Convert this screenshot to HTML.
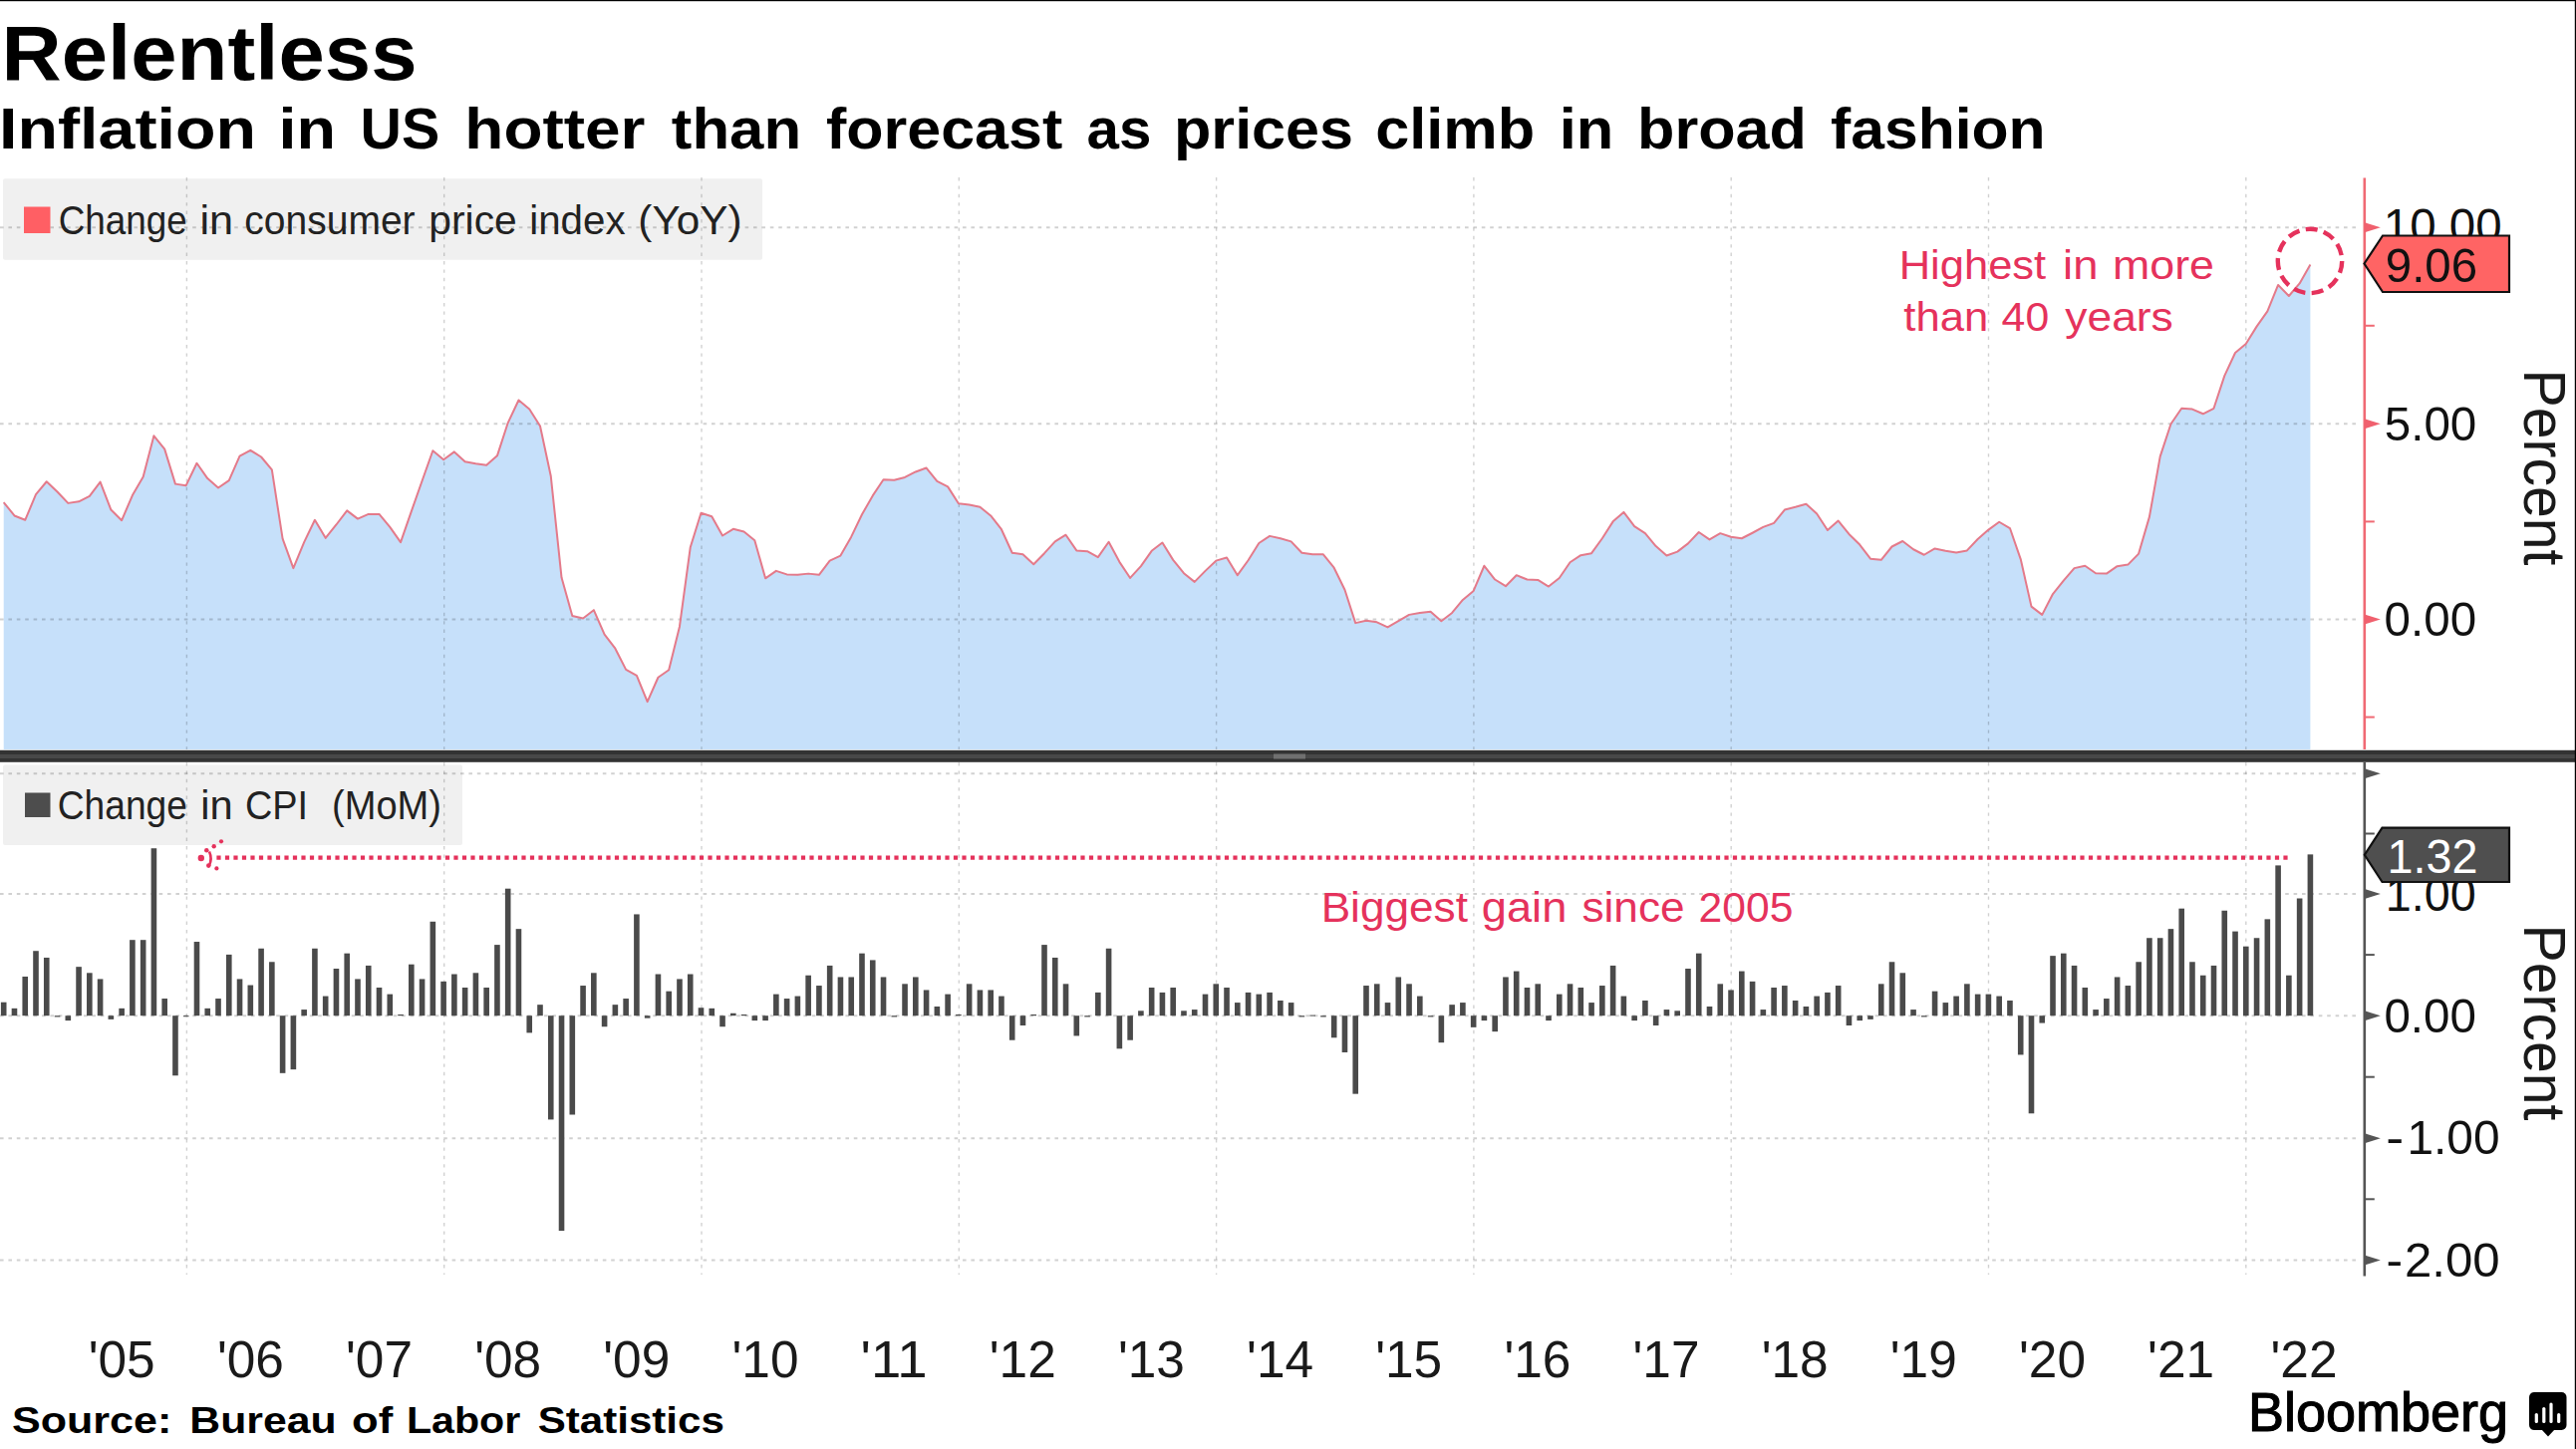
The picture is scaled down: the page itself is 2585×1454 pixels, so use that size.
<!DOCTYPE html>
<html><head><meta charset="utf-8"><title>Relentless</title>
<style>
html,body{margin:0;padding:0;background:#fff;}
body{width:2585px;height:1454px;overflow:hidden;position:relative;}
svg{position:absolute;left:0;top:0;display:block;}
text{font-family:"Liberation Sans", sans-serif;}
</style></head>
<body>
<svg width="2585" height="1454" viewBox="0 0 2585 1454">
<rect x="3" y="179.3" width="762" height="81.5" rx="2" fill="#F0F0F0"/>
<rect x="3" y="767.5" width="461" height="80.5" rx="2" fill="#F0F0F0"/>
<path d="M3.70,752 L3.70,504.09 L14.47,517.46 L25.23,521.78 L36.00,496.23 L46.76,483.26 L57.53,493.48 L68.30,504.88 L79.06,503.31 L89.83,497.81 L100.59,483.66 L111.36,511.56 L122.13,522.17 L132.89,497.02 L143.66,478.55 L154.42,437.28 L165.19,450.65 L175.96,485.62 L186.72,487.19 L197.49,464.79 L208.25,480.12 L219.02,489.55 L229.79,482.09 L240.55,457.72 L251.32,451.82 L262.09,458.50 L272.85,471.47 L283.62,540.64 L294.38,570.12 L305.15,544.18 L315.92,521.78 L326.68,539.86 L337.45,526.49 L348.21,512.35 L358.98,520.60 L369.75,515.88 L380.51,515.88 L391.28,528.85 L402.04,544.18 L412.81,513.13 L423.58,482.48 L434.34,452.22 L445.11,461.26 L455.87,453.40 L466.64,463.22 L477.41,465.19 L488.17,466.76 L498.94,457.33 L509.70,424.31 L520.47,401.52 L531.24,410.56 L542.00,427.46 L552.77,477.76 L563.53,579.55 L574.30,618.06 L585.07,620.42 L595.83,612.17 L606.60,636.53 L617.36,650.68 L628.13,671.90 L638.90,677.80 L649.66,704.13 L660.43,679.76 L671.19,672.30 L681.96,628.67 L692.73,549.29 L703.49,514.70 L714.26,518.24 L725.03,537.50 L735.79,530.82 L746.56,533.57 L757.32,542.21 L768.09,580.34 L778.86,572.87 L789.62,576.40 L800.39,576.80 L811.15,575.62 L821.92,576.80 L832.69,562.65 L843.45,557.54 L854.22,538.68 L864.98,516.28 L875.75,497.41 L886.52,481.30 L897.28,481.69 L908.05,478.94 L918.81,473.44 L929.58,469.51 L940.35,482.87 L951.11,488.37 L961.88,505.27 L972.64,506.45 L983.41,508.81 L994.18,517.46 L1004.94,531.21 L1015.71,554.79 L1026.47,556.36 L1037.24,566.19 L1048.01,555.18 L1058.77,543.39 L1069.54,536.71 L1080.30,552.43 L1091.07,553.22 L1101.84,559.11 L1112.60,543.79 L1123.37,563.83 L1134.13,579.94 L1144.90,568.15 L1155.67,552.83 L1166.43,544.57 L1177.20,561.86 L1187.97,575.23 L1198.73,583.87 L1209.50,572.87 L1220.26,562.65 L1231.03,559.51 L1241.80,577.19 L1252.56,562.26 L1263.33,544.97 L1274.09,537.89 L1284.86,540.25 L1295.63,543.39 L1306.39,554.79 L1317.16,556.36 L1327.92,556.36 L1338.69,569.72 L1349.46,591.73 L1360.22,625.14 L1370.99,622.78 L1381.75,624.35 L1392.52,629.46 L1403.29,623.17 L1414.05,616.88 L1424.82,614.92 L1435.58,613.74 L1446.35,623.17 L1457.12,614.92 L1467.88,601.95 L1478.65,592.91 L1489.41,567.76 L1500.18,581.51 L1510.95,588.20 L1521.71,577.19 L1532.48,581.51 L1543.24,581.91 L1554.01,588.59 L1564.78,579.94 L1575.54,564.22 L1586.31,557.15 L1597.07,555.18 L1607.84,540.25 L1618.61,523.35 L1629.37,513.92 L1640.14,528.07 L1650.91,535.14 L1661.67,548.11 L1672.44,557.54 L1683.20,553.61 L1693.97,545.36 L1704.74,533.96 L1715.50,541.43 L1726.27,535.14 L1737.03,538.68 L1747.80,540.25 L1758.57,534.75 L1769.33,528.85 L1780.10,524.92 L1790.86,511.56 L1801.63,508.81 L1812.40,505.67 L1823.16,515.49 L1833.93,532.00 L1844.69,522.56 L1855.46,535.93 L1866.23,546.54 L1876.99,560.69 L1887.76,561.86 L1898.52,548.50 L1909.29,543.00 L1920.06,551.25 L1930.82,556.75 L1941.59,550.47 L1952.35,552.83 L1963.12,554.40 L1973.89,552.43 L1984.65,541.04 L1995.42,531.60 L2006.18,523.74 L2016.95,530.03 L2027.72,561.08 L2038.48,608.63 L2049.25,616.88 L2060.01,596.06 L2070.78,582.69 L2081.55,570.12 L2092.31,567.76 L2103.08,575.23 L2113.85,575.62 L2124.61,568.15 L2135.38,566.58 L2146.14,555.58 L2156.91,518.63 L2167.68,458.11 L2178.44,425.49 L2189.21,409.77 L2199.97,410.56 L2210.74,415.28 L2221.51,409.77 L2232.27,377.15 L2243.04,353.97 L2253.80,344.93 L2264.57,327.64 L2275.34,312.31 L2286.10,285.98 L2296.87,296.98 L2307.63,284.41 L2318.40,265.54 L2318.40,752 Z" fill="#C6E0FA"/>
<line x1="0" y1="228.2" x2="2366.8" y2="228.2" stroke="rgba(0,0,0,0.18)" stroke-width="2" stroke-dasharray="3.6 4.8"/>
<line x1="0" y1="425.3" x2="2366.8" y2="425.3" stroke="rgba(0,0,0,0.18)" stroke-width="2" stroke-dasharray="3.6 4.8"/>
<line x1="0" y1="621.5" x2="2366.8" y2="621.5" stroke="rgba(0,0,0,0.18)" stroke-width="2" stroke-dasharray="3.6 4.8"/>
<line x1="187.4" y1="178" x2="187.4" y2="752" stroke="rgba(0,0,0,0.18)" stroke-width="1.4" stroke-dasharray="3.4 5.0"/>
<line x1="187.4" y1="765" x2="187.4" y2="1279" stroke="rgba(0,0,0,0.18)" stroke-width="1.4" stroke-dasharray="3.4 5.0"/>
<line x1="445.7" y1="178" x2="445.7" y2="752" stroke="rgba(0,0,0,0.18)" stroke-width="1.4" stroke-dasharray="3.4 5.0"/>
<line x1="445.7" y1="765" x2="445.7" y2="1279" stroke="rgba(0,0,0,0.18)" stroke-width="1.4" stroke-dasharray="3.4 5.0"/>
<line x1="704.0" y1="178" x2="704.0" y2="752" stroke="rgba(0,0,0,0.18)" stroke-width="1.4" stroke-dasharray="3.4 5.0"/>
<line x1="704.0" y1="765" x2="704.0" y2="1279" stroke="rgba(0,0,0,0.18)" stroke-width="1.4" stroke-dasharray="3.4 5.0"/>
<line x1="962.3" y1="178" x2="962.3" y2="752" stroke="rgba(0,0,0,0.18)" stroke-width="1.4" stroke-dasharray="3.4 5.0"/>
<line x1="962.3" y1="765" x2="962.3" y2="1279" stroke="rgba(0,0,0,0.18)" stroke-width="1.4" stroke-dasharray="3.4 5.0"/>
<line x1="1220.6" y1="178" x2="1220.6" y2="752" stroke="rgba(0,0,0,0.18)" stroke-width="1.4" stroke-dasharray="3.4 5.0"/>
<line x1="1220.6" y1="765" x2="1220.6" y2="1279" stroke="rgba(0,0,0,0.18)" stroke-width="1.4" stroke-dasharray="3.4 5.0"/>
<line x1="1478.9" y1="178" x2="1478.9" y2="752" stroke="rgba(0,0,0,0.18)" stroke-width="1.4" stroke-dasharray="3.4 5.0"/>
<line x1="1478.9" y1="765" x2="1478.9" y2="1279" stroke="rgba(0,0,0,0.18)" stroke-width="1.4" stroke-dasharray="3.4 5.0"/>
<line x1="1737.2" y1="178" x2="1737.2" y2="752" stroke="rgba(0,0,0,0.18)" stroke-width="1.4" stroke-dasharray="3.4 5.0"/>
<line x1="1737.2" y1="765" x2="1737.2" y2="1279" stroke="rgba(0,0,0,0.18)" stroke-width="1.4" stroke-dasharray="3.4 5.0"/>
<line x1="1995.5" y1="178" x2="1995.5" y2="752" stroke="rgba(0,0,0,0.18)" stroke-width="1.4" stroke-dasharray="3.4 5.0"/>
<line x1="1995.5" y1="765" x2="1995.5" y2="1279" stroke="rgba(0,0,0,0.18)" stroke-width="1.4" stroke-dasharray="3.4 5.0"/>
<line x1="2253.8" y1="178" x2="2253.8" y2="752" stroke="rgba(0,0,0,0.18)" stroke-width="1.4" stroke-dasharray="3.4 5.0"/>
<line x1="2253.8" y1="765" x2="2253.8" y2="1279" stroke="rgba(0,0,0,0.18)" stroke-width="1.4" stroke-dasharray="3.4 5.0"/>
<line x1="0" y1="776.2" x2="2366.8" y2="776.2" stroke="rgba(0,0,0,0.18)" stroke-width="2" stroke-dasharray="3.6 4.8"/>
<line x1="0" y1="896.9" x2="2366.8" y2="896.9" stroke="rgba(0,0,0,0.18)" stroke-width="2" stroke-dasharray="3.6 4.8"/>
<line x1="0" y1="1019.3" x2="2366.8" y2="1019.3" stroke="rgba(0,0,0,0.18)" stroke-width="2" stroke-dasharray="3.6 4.8"/>
<line x1="0" y1="1142.2" x2="2366.8" y2="1142.2" stroke="rgba(0,0,0,0.18)" stroke-width="2" stroke-dasharray="3.6 4.8"/>
<line x1="0" y1="1264.5" x2="2366.8" y2="1264.5" stroke="rgba(0,0,0,0.18)" stroke-width="2" stroke-dasharray="3.6 4.8"/>
<rect x="24" y="207.5" width="26.5" height="26.5" fill="#FF5F64"/>
<rect x="25" y="795.5" width="25.5" height="24.5" fill="#4D4D4D"/>
<path d="M3.70,504.09 L14.47,517.46 L25.23,521.78 L36.00,496.23 L46.76,483.26 L57.53,493.48 L68.30,504.88 L79.06,503.31 L89.83,497.81 L100.59,483.66 L111.36,511.56 L122.13,522.17 L132.89,497.02 L143.66,478.55 L154.42,437.28 L165.19,450.65 L175.96,485.62 L186.72,487.19 L197.49,464.79 L208.25,480.12 L219.02,489.55 L229.79,482.09 L240.55,457.72 L251.32,451.82 L262.09,458.50 L272.85,471.47 L283.62,540.64 L294.38,570.12 L305.15,544.18 L315.92,521.78 L326.68,539.86 L337.45,526.49 L348.21,512.35 L358.98,520.60 L369.75,515.88 L380.51,515.88 L391.28,528.85 L402.04,544.18 L412.81,513.13 L423.58,482.48 L434.34,452.22 L445.11,461.26 L455.87,453.40 L466.64,463.22 L477.41,465.19 L488.17,466.76 L498.94,457.33 L509.70,424.31 L520.47,401.52 L531.24,410.56 L542.00,427.46 L552.77,477.76 L563.53,579.55 L574.30,618.06 L585.07,620.42 L595.83,612.17 L606.60,636.53 L617.36,650.68 L628.13,671.90 L638.90,677.80 L649.66,704.13 L660.43,679.76 L671.19,672.30 L681.96,628.67 L692.73,549.29 L703.49,514.70 L714.26,518.24 L725.03,537.50 L735.79,530.82 L746.56,533.57 L757.32,542.21 L768.09,580.34 L778.86,572.87 L789.62,576.40 L800.39,576.80 L811.15,575.62 L821.92,576.80 L832.69,562.65 L843.45,557.54 L854.22,538.68 L864.98,516.28 L875.75,497.41 L886.52,481.30 L897.28,481.69 L908.05,478.94 L918.81,473.44 L929.58,469.51 L940.35,482.87 L951.11,488.37 L961.88,505.27 L972.64,506.45 L983.41,508.81 L994.18,517.46 L1004.94,531.21 L1015.71,554.79 L1026.47,556.36 L1037.24,566.19 L1048.01,555.18 L1058.77,543.39 L1069.54,536.71 L1080.30,552.43 L1091.07,553.22 L1101.84,559.11 L1112.60,543.79 L1123.37,563.83 L1134.13,579.94 L1144.90,568.15 L1155.67,552.83 L1166.43,544.57 L1177.20,561.86 L1187.97,575.23 L1198.73,583.87 L1209.50,572.87 L1220.26,562.65 L1231.03,559.51 L1241.80,577.19 L1252.56,562.26 L1263.33,544.97 L1274.09,537.89 L1284.86,540.25 L1295.63,543.39 L1306.39,554.79 L1317.16,556.36 L1327.92,556.36 L1338.69,569.72 L1349.46,591.73 L1360.22,625.14 L1370.99,622.78 L1381.75,624.35 L1392.52,629.46 L1403.29,623.17 L1414.05,616.88 L1424.82,614.92 L1435.58,613.74 L1446.35,623.17 L1457.12,614.92 L1467.88,601.95 L1478.65,592.91 L1489.41,567.76 L1500.18,581.51 L1510.95,588.20 L1521.71,577.19 L1532.48,581.51 L1543.24,581.91 L1554.01,588.59 L1564.78,579.94 L1575.54,564.22 L1586.31,557.15 L1597.07,555.18 L1607.84,540.25 L1618.61,523.35 L1629.37,513.92 L1640.14,528.07 L1650.91,535.14 L1661.67,548.11 L1672.44,557.54 L1683.20,553.61 L1693.97,545.36 L1704.74,533.96 L1715.50,541.43 L1726.27,535.14 L1737.03,538.68 L1747.80,540.25 L1758.57,534.75 L1769.33,528.85 L1780.10,524.92 L1790.86,511.56 L1801.63,508.81 L1812.40,505.67 L1823.16,515.49 L1833.93,532.00 L1844.69,522.56 L1855.46,535.93 L1866.23,546.54 L1876.99,560.69 L1887.76,561.86 L1898.52,548.50 L1909.29,543.00 L1920.06,551.25 L1930.82,556.75 L1941.59,550.47 L1952.35,552.83 L1963.12,554.40 L1973.89,552.43 L1984.65,541.04 L1995.42,531.60 L2006.18,523.74 L2016.95,530.03 L2027.72,561.08 L2038.48,608.63 L2049.25,616.88 L2060.01,596.06 L2070.78,582.69 L2081.55,570.12 L2092.31,567.76 L2103.08,575.23 L2113.85,575.62 L2124.61,568.15 L2135.38,566.58 L2146.14,555.58 L2156.91,518.63 L2167.68,458.11 L2178.44,425.49 L2189.21,409.77 L2199.97,410.56 L2210.74,415.28 L2221.51,409.77 L2232.27,377.15 L2243.04,353.97 L2253.80,344.93 L2264.57,327.64 L2275.34,312.31 L2286.10,285.98 L2296.87,296.98 L2307.63,284.41 L2318.40,265.54" fill="none" stroke="#E47A8A" stroke-width="2.0" stroke-linejoin="round"/>
<rect x="0.90" y="1005.71" width="5.6" height="13.49" fill="#4A4A4A"/>
<rect x="11.67" y="1011.84" width="5.6" height="7.36" fill="#4A4A4A"/>
<rect x="22.43" y="979.97" width="5.6" height="39.23" fill="#4A4A4A"/>
<rect x="33.20" y="954.22" width="5.6" height="64.98" fill="#4A4A4A"/>
<rect x="43.96" y="960.97" width="5.6" height="58.24" fill="#4A4A4A"/>
<rect x="54.73" y="1019.20" width="5.6" height="1.23" fill="#4A4A4A"/>
<rect x="65.50" y="1019.20" width="5.6" height="4.90" fill="#4A4A4A"/>
<rect x="76.26" y="970.16" width="5.6" height="49.04" fill="#4A4A4A"/>
<rect x="87.03" y="976.29" width="5.6" height="42.91" fill="#4A4A4A"/>
<rect x="97.79" y="982.42" width="5.6" height="36.78" fill="#4A4A4A"/>
<rect x="108.56" y="1019.20" width="5.6" height="3.68" fill="#4A4A4A"/>
<rect x="119.33" y="1011.84" width="5.6" height="7.36" fill="#4A4A4A"/>
<rect x="130.09" y="943.19" width="5.6" height="76.01" fill="#4A4A4A"/>
<rect x="140.86" y="943.19" width="5.6" height="76.01" fill="#4A4A4A"/>
<rect x="151.62" y="851.24" width="5.6" height="167.96" fill="#4A4A4A"/>
<rect x="162.39" y="1002.04" width="5.6" height="17.16" fill="#4A4A4A"/>
<rect x="173.16" y="1019.20" width="5.6" height="60.07" fill="#4A4A4A"/>
<rect x="183.92" y="1019.20" width="5.6" height="1.00" fill="#4A4A4A"/>
<rect x="194.69" y="945.03" width="5.6" height="74.17" fill="#4A4A4A"/>
<rect x="205.45" y="1011.84" width="5.6" height="7.36" fill="#4A4A4A"/>
<rect x="216.22" y="1002.04" width="5.6" height="17.16" fill="#4A4A4A"/>
<rect x="226.99" y="957.90" width="5.6" height="61.30" fill="#4A4A4A"/>
<rect x="237.75" y="982.42" width="5.6" height="36.78" fill="#4A4A4A"/>
<rect x="248.52" y="988.55" width="5.6" height="30.65" fill="#4A4A4A"/>
<rect x="259.29" y="951.77" width="5.6" height="67.43" fill="#4A4A4A"/>
<rect x="270.05" y="965.26" width="5.6" height="53.94" fill="#4A4A4A"/>
<rect x="280.82" y="1019.20" width="5.6" height="57.62" fill="#4A4A4A"/>
<rect x="291.58" y="1019.20" width="5.6" height="53.94" fill="#4A4A4A"/>
<rect x="302.35" y="1013.07" width="5.6" height="6.13" fill="#4A4A4A"/>
<rect x="313.12" y="951.77" width="5.6" height="67.43" fill="#4A4A4A"/>
<rect x="323.88" y="999.58" width="5.6" height="19.62" fill="#4A4A4A"/>
<rect x="334.65" y="972.00" width="5.6" height="47.20" fill="#4A4A4A"/>
<rect x="345.41" y="956.67" width="5.6" height="62.53" fill="#4A4A4A"/>
<rect x="356.18" y="982.42" width="5.6" height="36.78" fill="#4A4A4A"/>
<rect x="366.95" y="968.93" width="5.6" height="50.27" fill="#4A4A4A"/>
<rect x="377.71" y="991.00" width="5.6" height="28.20" fill="#4A4A4A"/>
<rect x="388.48" y="997.62" width="5.6" height="21.58" fill="#4A4A4A"/>
<rect x="399.24" y="1017.97" width="5.6" height="1.23" fill="#4A4A4A"/>
<rect x="410.01" y="967.71" width="5.6" height="51.49" fill="#4A4A4A"/>
<rect x="420.78" y="982.42" width="5.6" height="36.78" fill="#4A4A4A"/>
<rect x="431.54" y="924.80" width="5.6" height="94.40" fill="#4A4A4A"/>
<rect x="442.31" y="984.87" width="5.6" height="34.33" fill="#4A4A4A"/>
<rect x="453.07" y="977.52" width="5.6" height="41.68" fill="#4A4A4A"/>
<rect x="463.84" y="991.00" width="5.6" height="28.20" fill="#4A4A4A"/>
<rect x="474.61" y="976.29" width="5.6" height="42.91" fill="#4A4A4A"/>
<rect x="485.37" y="991.00" width="5.6" height="28.20" fill="#4A4A4A"/>
<rect x="496.14" y="948.09" width="5.6" height="71.11" fill="#4A4A4A"/>
<rect x="506.90" y="891.70" width="5.6" height="127.50" fill="#4A4A4A"/>
<rect x="517.67" y="932.15" width="5.6" height="87.05" fill="#4A4A4A"/>
<rect x="528.44" y="1019.20" width="5.6" height="17.16" fill="#4A4A4A"/>
<rect x="539.20" y="1008.17" width="5.6" height="11.03" fill="#4A4A4A"/>
<rect x="549.97" y="1019.20" width="5.6" height="104.21" fill="#4A4A4A"/>
<rect x="560.73" y="1019.20" width="5.6" height="215.78" fill="#4A4A4A"/>
<rect x="571.50" y="1019.20" width="5.6" height="99.31" fill="#4A4A4A"/>
<rect x="582.27" y="989.04" width="5.6" height="30.16" fill="#4A4A4A"/>
<rect x="593.03" y="976.29" width="5.6" height="42.91" fill="#4A4A4A"/>
<rect x="603.80" y="1019.20" width="5.6" height="11.03" fill="#4A4A4A"/>
<rect x="614.56" y="1008.17" width="5.6" height="11.03" fill="#4A4A4A"/>
<rect x="625.33" y="1002.04" width="5.6" height="17.16" fill="#4A4A4A"/>
<rect x="636.10" y="917.44" width="5.6" height="101.76" fill="#4A4A4A"/>
<rect x="646.86" y="1019.20" width="5.6" height="2.45" fill="#4A4A4A"/>
<rect x="657.63" y="977.52" width="5.6" height="41.68" fill="#4A4A4A"/>
<rect x="668.39" y="994.68" width="5.6" height="24.52" fill="#4A4A4A"/>
<rect x="679.16" y="982.42" width="5.6" height="36.78" fill="#4A4A4A"/>
<rect x="689.93" y="977.52" width="5.6" height="41.68" fill="#4A4A4A"/>
<rect x="700.69" y="1011.23" width="5.6" height="7.97" fill="#4A4A4A"/>
<rect x="711.46" y="1011.84" width="5.6" height="7.36" fill="#4A4A4A"/>
<rect x="722.23" y="1019.20" width="5.6" height="11.03" fill="#4A4A4A"/>
<rect x="732.99" y="1016.75" width="5.6" height="2.45" fill="#4A4A4A"/>
<rect x="743.76" y="1017.97" width="5.6" height="1.23" fill="#4A4A4A"/>
<rect x="754.52" y="1019.20" width="5.6" height="4.90" fill="#4A4A4A"/>
<rect x="765.29" y="1019.20" width="5.6" height="4.90" fill="#4A4A4A"/>
<rect x="776.06" y="997.62" width="5.6" height="21.58" fill="#4A4A4A"/>
<rect x="786.82" y="1002.04" width="5.6" height="17.16" fill="#4A4A4A"/>
<rect x="797.59" y="999.58" width="5.6" height="19.62" fill="#4A4A4A"/>
<rect x="808.35" y="978.74" width="5.6" height="40.46" fill="#4A4A4A"/>
<rect x="819.12" y="989.04" width="5.6" height="30.16" fill="#4A4A4A"/>
<rect x="829.89" y="968.93" width="5.6" height="50.27" fill="#4A4A4A"/>
<rect x="840.65" y="980.46" width="5.6" height="38.74" fill="#4A4A4A"/>
<rect x="851.42" y="980.46" width="5.6" height="38.74" fill="#4A4A4A"/>
<rect x="862.18" y="956.67" width="5.6" height="62.53" fill="#4A4A4A"/>
<rect x="872.95" y="963.42" width="5.6" height="55.78" fill="#4A4A4A"/>
<rect x="883.72" y="980.46" width="5.6" height="38.74" fill="#4A4A4A"/>
<rect x="894.48" y="1019.20" width="5.6" height="1.23" fill="#4A4A4A"/>
<rect x="905.25" y="987.32" width="5.6" height="31.88" fill="#4A4A4A"/>
<rect x="916.01" y="980.46" width="5.6" height="38.74" fill="#4A4A4A"/>
<rect x="926.78" y="993.45" width="5.6" height="25.75" fill="#4A4A4A"/>
<rect x="937.55" y="1010.00" width="5.6" height="9.20" fill="#4A4A4A"/>
<rect x="948.31" y="997.62" width="5.6" height="21.58" fill="#4A4A4A"/>
<rect x="959.08" y="1017.97" width="5.6" height="1.23" fill="#4A4A4A"/>
<rect x="969.84" y="987.32" width="5.6" height="31.88" fill="#4A4A4A"/>
<rect x="980.61" y="993.45" width="5.6" height="25.75" fill="#4A4A4A"/>
<rect x="991.38" y="993.45" width="5.6" height="25.75" fill="#4A4A4A"/>
<rect x="1002.14" y="999.58" width="5.6" height="19.62" fill="#4A4A4A"/>
<rect x="1012.91" y="1019.20" width="5.6" height="24.52" fill="#4A4A4A"/>
<rect x="1023.67" y="1019.20" width="5.6" height="9.81" fill="#4A4A4A"/>
<rect x="1034.44" y="1017.97" width="5.6" height="1.23" fill="#4A4A4A"/>
<rect x="1045.21" y="948.09" width="5.6" height="71.11" fill="#4A4A4A"/>
<rect x="1055.97" y="960.97" width="5.6" height="58.24" fill="#4A4A4A"/>
<rect x="1066.74" y="987.32" width="5.6" height="31.88" fill="#4A4A4A"/>
<rect x="1077.50" y="1019.20" width="5.6" height="20.23" fill="#4A4A4A"/>
<rect x="1088.27" y="1019.20" width="5.6" height="1.23" fill="#4A4A4A"/>
<rect x="1099.04" y="995.91" width="5.6" height="23.29" fill="#4A4A4A"/>
<rect x="1109.80" y="951.77" width="5.6" height="67.43" fill="#4A4A4A"/>
<rect x="1120.57" y="1019.20" width="5.6" height="33.10" fill="#4A4A4A"/>
<rect x="1131.33" y="1019.20" width="5.6" height="24.52" fill="#4A4A4A"/>
<rect x="1142.10" y="1014.30" width="5.6" height="4.90" fill="#4A4A4A"/>
<rect x="1152.87" y="991.00" width="5.6" height="28.20" fill="#4A4A4A"/>
<rect x="1163.63" y="995.91" width="5.6" height="23.29" fill="#4A4A4A"/>
<rect x="1174.40" y="991.00" width="5.6" height="28.20" fill="#4A4A4A"/>
<rect x="1185.17" y="1014.30" width="5.6" height="4.90" fill="#4A4A4A"/>
<rect x="1195.93" y="1013.07" width="5.6" height="6.13" fill="#4A4A4A"/>
<rect x="1206.70" y="997.62" width="5.6" height="21.58" fill="#4A4A4A"/>
<rect x="1217.46" y="987.32" width="5.6" height="31.88" fill="#4A4A4A"/>
<rect x="1228.23" y="991.00" width="5.6" height="28.20" fill="#4A4A4A"/>
<rect x="1239.00" y="1006.08" width="5.6" height="13.12" fill="#4A4A4A"/>
<rect x="1249.76" y="995.91" width="5.6" height="23.29" fill="#4A4A4A"/>
<rect x="1260.53" y="997.62" width="5.6" height="21.58" fill="#4A4A4A"/>
<rect x="1271.29" y="995.91" width="5.6" height="23.29" fill="#4A4A4A"/>
<rect x="1282.06" y="1004.00" width="5.6" height="15.20" fill="#4A4A4A"/>
<rect x="1292.83" y="1006.08" width="5.6" height="13.12" fill="#4A4A4A"/>
<rect x="1303.59" y="1019.20" width="5.6" height="1.23" fill="#4A4A4A"/>
<rect x="1314.36" y="1018.59" width="5.6" height="1.00" fill="#4A4A4A"/>
<rect x="1325.12" y="1019.20" width="5.6" height="1.23" fill="#4A4A4A"/>
<rect x="1335.89" y="1019.20" width="5.6" height="22.07" fill="#4A4A4A"/>
<rect x="1346.66" y="1019.20" width="5.6" height="36.78" fill="#4A4A4A"/>
<rect x="1357.42" y="1019.20" width="5.6" height="78.46" fill="#4A4A4A"/>
<rect x="1368.19" y="989.04" width="5.6" height="30.16" fill="#4A4A4A"/>
<rect x="1378.95" y="987.32" width="5.6" height="31.88" fill="#4A4A4A"/>
<rect x="1389.72" y="1006.08" width="5.6" height="13.12" fill="#4A4A4A"/>
<rect x="1400.49" y="980.46" width="5.6" height="38.74" fill="#4A4A4A"/>
<rect x="1411.25" y="987.32" width="5.6" height="31.88" fill="#4A4A4A"/>
<rect x="1422.02" y="999.58" width="5.6" height="19.62" fill="#4A4A4A"/>
<rect x="1432.78" y="1019.20" width="5.6" height="1.23" fill="#4A4A4A"/>
<rect x="1443.55" y="1019.20" width="5.6" height="26.97" fill="#4A4A4A"/>
<rect x="1454.32" y="1008.17" width="5.6" height="11.03" fill="#4A4A4A"/>
<rect x="1465.08" y="1006.08" width="5.6" height="13.12" fill="#4A4A4A"/>
<rect x="1475.85" y="1019.20" width="5.6" height="11.65" fill="#4A4A4A"/>
<rect x="1486.61" y="1019.20" width="5.6" height="4.90" fill="#4A4A4A"/>
<rect x="1497.38" y="1019.20" width="5.6" height="15.94" fill="#4A4A4A"/>
<rect x="1508.15" y="980.46" width="5.6" height="38.74" fill="#4A4A4A"/>
<rect x="1518.91" y="974.57" width="5.6" height="44.63" fill="#4A4A4A"/>
<rect x="1529.68" y="991.00" width="5.6" height="28.20" fill="#4A4A4A"/>
<rect x="1540.44" y="987.32" width="5.6" height="31.88" fill="#4A4A4A"/>
<rect x="1551.21" y="1019.20" width="5.6" height="4.90" fill="#4A4A4A"/>
<rect x="1561.98" y="997.62" width="5.6" height="21.58" fill="#4A4A4A"/>
<rect x="1572.74" y="987.32" width="5.6" height="31.88" fill="#4A4A4A"/>
<rect x="1583.51" y="991.00" width="5.6" height="28.20" fill="#4A4A4A"/>
<rect x="1594.27" y="1006.08" width="5.6" height="13.12" fill="#4A4A4A"/>
<rect x="1605.04" y="989.04" width="5.6" height="30.16" fill="#4A4A4A"/>
<rect x="1615.81" y="968.93" width="5.6" height="50.27" fill="#4A4A4A"/>
<rect x="1626.57" y="999.58" width="5.6" height="19.62" fill="#4A4A4A"/>
<rect x="1637.34" y="1019.20" width="5.6" height="4.90" fill="#4A4A4A"/>
<rect x="1648.11" y="1004.00" width="5.6" height="15.20" fill="#4A4A4A"/>
<rect x="1658.87" y="1019.20" width="5.6" height="9.81" fill="#4A4A4A"/>
<rect x="1669.64" y="1013.07" width="5.6" height="6.13" fill="#4A4A4A"/>
<rect x="1680.40" y="1014.30" width="5.6" height="4.90" fill="#4A4A4A"/>
<rect x="1691.17" y="972.00" width="5.6" height="47.20" fill="#4A4A4A"/>
<rect x="1701.94" y="956.67" width="5.6" height="62.53" fill="#4A4A4A"/>
<rect x="1712.70" y="1010.00" width="5.6" height="9.20" fill="#4A4A4A"/>
<rect x="1723.47" y="987.32" width="5.6" height="31.88" fill="#4A4A4A"/>
<rect x="1734.23" y="993.45" width="5.6" height="25.75" fill="#4A4A4A"/>
<rect x="1745.00" y="974.57" width="5.6" height="44.63" fill="#4A4A4A"/>
<rect x="1755.77" y="984.87" width="5.6" height="34.33" fill="#4A4A4A"/>
<rect x="1766.53" y="1013.07" width="5.6" height="6.13" fill="#4A4A4A"/>
<rect x="1777.30" y="991.00" width="5.6" height="28.20" fill="#4A4A4A"/>
<rect x="1788.06" y="989.04" width="5.6" height="30.16" fill="#4A4A4A"/>
<rect x="1798.83" y="1004.00" width="5.6" height="15.20" fill="#4A4A4A"/>
<rect x="1809.60" y="1010.00" width="5.6" height="9.20" fill="#4A4A4A"/>
<rect x="1820.36" y="999.58" width="5.6" height="19.62" fill="#4A4A4A"/>
<rect x="1831.13" y="995.91" width="5.6" height="23.29" fill="#4A4A4A"/>
<rect x="1841.89" y="989.04" width="5.6" height="30.16" fill="#4A4A4A"/>
<rect x="1852.66" y="1019.20" width="5.6" height="9.81" fill="#4A4A4A"/>
<rect x="1863.43" y="1019.20" width="5.6" height="4.90" fill="#4A4A4A"/>
<rect x="1874.19" y="1019.20" width="5.6" height="3.68" fill="#4A4A4A"/>
<rect x="1884.96" y="987.32" width="5.6" height="31.88" fill="#4A4A4A"/>
<rect x="1895.72" y="965.26" width="5.6" height="53.94" fill="#4A4A4A"/>
<rect x="1906.49" y="976.29" width="5.6" height="42.91" fill="#4A4A4A"/>
<rect x="1917.26" y="1013.07" width="5.6" height="6.13" fill="#4A4A4A"/>
<rect x="1928.02" y="1019.20" width="5.6" height="1.23" fill="#4A4A4A"/>
<rect x="1938.79" y="994.68" width="5.6" height="24.52" fill="#4A4A4A"/>
<rect x="1949.55" y="1006.08" width="5.6" height="13.12" fill="#4A4A4A"/>
<rect x="1960.32" y="999.58" width="5.6" height="19.62" fill="#4A4A4A"/>
<rect x="1971.09" y="987.32" width="5.6" height="31.88" fill="#4A4A4A"/>
<rect x="1981.85" y="997.62" width="5.6" height="21.58" fill="#4A4A4A"/>
<rect x="1992.62" y="997.62" width="5.6" height="21.58" fill="#4A4A4A"/>
<rect x="2003.38" y="999.58" width="5.6" height="19.62" fill="#4A4A4A"/>
<rect x="2014.15" y="1004.00" width="5.6" height="15.20" fill="#4A4A4A"/>
<rect x="2024.92" y="1019.20" width="5.6" height="39.23" fill="#4A4A4A"/>
<rect x="2035.68" y="1019.20" width="5.6" height="98.08" fill="#4A4A4A"/>
<rect x="2046.45" y="1019.20" width="5.6" height="7.36" fill="#4A4A4A"/>
<rect x="2057.21" y="959.13" width="5.6" height="60.07" fill="#4A4A4A"/>
<rect x="2067.98" y="956.67" width="5.6" height="62.53" fill="#4A4A4A"/>
<rect x="2078.75" y="968.93" width="5.6" height="50.27" fill="#4A4A4A"/>
<rect x="2089.51" y="991.00" width="5.6" height="28.20" fill="#4A4A4A"/>
<rect x="2100.28" y="1013.07" width="5.6" height="6.13" fill="#4A4A4A"/>
<rect x="2111.05" y="1002.04" width="5.6" height="17.16" fill="#4A4A4A"/>
<rect x="2121.81" y="980.46" width="5.6" height="38.74" fill="#4A4A4A"/>
<rect x="2132.58" y="989.04" width="5.6" height="30.16" fill="#4A4A4A"/>
<rect x="2143.34" y="965.26" width="5.6" height="53.94" fill="#4A4A4A"/>
<rect x="2154.11" y="941.23" width="5.6" height="77.97" fill="#4A4A4A"/>
<rect x="2164.88" y="941.23" width="5.6" height="77.97" fill="#4A4A4A"/>
<rect x="2175.64" y="932.15" width="5.6" height="87.05" fill="#4A4A4A"/>
<rect x="2186.41" y="911.68" width="5.6" height="107.52" fill="#4A4A4A"/>
<rect x="2197.17" y="965.26" width="5.6" height="53.94" fill="#4A4A4A"/>
<rect x="2207.94" y="978.74" width="5.6" height="40.46" fill="#4A4A4A"/>
<rect x="2218.71" y="968.93" width="5.6" height="50.27" fill="#4A4A4A"/>
<rect x="2229.47" y="913.76" width="5.6" height="105.44" fill="#4A4A4A"/>
<rect x="2240.24" y="934.61" width="5.6" height="84.59" fill="#4A4A4A"/>
<rect x="2251.00" y="949.69" width="5.6" height="69.51" fill="#4A4A4A"/>
<rect x="2261.77" y="941.23" width="5.6" height="77.97" fill="#4A4A4A"/>
<rect x="2272.54" y="922.35" width="5.6" height="96.85" fill="#4A4A4A"/>
<rect x="2283.30" y="868.40" width="5.6" height="150.80" fill="#4A4A4A"/>
<rect x="2294.07" y="978.74" width="5.6" height="40.46" fill="#4A4A4A"/>
<rect x="2304.83" y="901.50" width="5.6" height="117.70" fill="#4A4A4A"/>
<rect x="2315.60" y="857.37" width="5.6" height="161.83" fill="#4A4A4A"/>
<rect x="0" y="752.8" width="2585" height="12" fill="#333333"/>
<rect x="0" y="757" width="2585" height="4" fill="#484848"/>
<rect x="1278" y="756.5" width="32" height="5" fill="#707070"/>
<line x1="2372.8" y1="178.5" x2="2372.8" y2="752" stroke="#F06A74" stroke-width="2.6"/>
<path d="M2372.8,223.2 L2388.8,228.2 L2372.8,233.2 Z" fill="#F0606E"/>
<path d="M2372.8,420.3 L2388.8,425.3 L2372.8,430.3 Z" fill="#F0606E"/>
<path d="M2372.8,616.5 L2388.8,621.5 L2372.8,626.5 Z" fill="#F0606E"/>
<line x1="2372.8" y1="326.8" x2="2382.8" y2="326.8" stroke="#F06A74" stroke-width="2"/>
<line x1="2372.8" y1="523.4" x2="2382.8" y2="523.4" stroke="#F06A74" stroke-width="2"/>
<line x1="2372.8" y1="719.6" x2="2382.8" y2="719.6" stroke="#F06A74" stroke-width="2"/>
<line x1="2372.8" y1="765" x2="2372.8" y2="1280.5" stroke="#555" stroke-width="2.6"/>
<path d="M2372.8,771.2 L2388.8,776.2 L2372.8,781.2 Z" fill="#555"/>
<path d="M2372.8,891.9 L2388.8,896.9 L2372.8,901.9 Z" fill="#555"/>
<path d="M2372.8,1014.3 L2388.8,1019.3 L2372.8,1024.3 Z" fill="#555"/>
<path d="M2372.8,1137.2 L2388.8,1142.2 L2372.8,1147.2 Z" fill="#555"/>
<path d="M2372.8,1259.5 L2388.8,1264.5 L2372.8,1269.5 Z" fill="#555"/>
<line x1="2372.8" y1="836.5" x2="2382.8" y2="836.5" stroke="#555" stroke-width="2"/>
<line x1="2372.8" y1="958.1" x2="2382.8" y2="958.1" stroke="#555" stroke-width="2"/>
<line x1="2372.8" y1="1080.7" x2="2382.8" y2="1080.7" stroke="#555" stroke-width="2"/>
<line x1="2372.8" y1="1203.3" x2="2382.8" y2="1203.3" stroke="#555" stroke-width="2"/>
<text x="2391.84" y="242.5" font-size="48.5" font-weight="normal" fill="#111" textLength="118.74" lengthAdjust="spacingAndGlyphs">10.00</text>
<text x="2392.70" y="442.2" font-size="48.5" font-weight="normal" fill="#111" textLength="92.65" lengthAdjust="spacingAndGlyphs">5.00</text>
<text x="2392.60" y="638.1" font-size="48.5" font-weight="normal" fill="#111" textLength="92.55" lengthAdjust="spacingAndGlyphs">0.00</text>
<text x="2393.80" y="913.5" font-size="48.5" font-weight="normal" fill="#111" textLength="90.92" lengthAdjust="spacingAndGlyphs">1.00</text>
<text x="2392.40" y="1036.0" font-size="48.5" font-weight="normal" fill="#111" textLength="92.55" lengthAdjust="spacingAndGlyphs">0.00</text>
<text x="2394.38" y="1158.4" font-size="48.5" font-weight="normal" fill="#111" textLength="17.94" lengthAdjust="spacingAndGlyphs">-</text>
<text x="2415.41" y="1158.4" font-size="48.5" font-weight="normal" fill="#111" textLength="93.15" lengthAdjust="spacingAndGlyphs">1.00</text>
<text x="2394.56" y="1281.2" font-size="48.5" font-weight="normal" fill="#111" textLength="16.58" lengthAdjust="spacingAndGlyphs">-</text>
<text x="2413.04" y="1281.2" font-size="48.5" font-weight="normal" fill="#111" textLength="95.67" lengthAdjust="spacingAndGlyphs">2.00</text>
<path d="M2372.5,264.5 L2391,236.5 L2518,236.5 L2518,293 L2391,293 Z" fill="#FF6464" stroke="#111" stroke-width="2.2" stroke-linejoin="miter"/>
<text x="2393.75" y="282.7" font-size="49" font-weight="normal" fill="#111" textLength="92.33" lengthAdjust="spacingAndGlyphs">9.06</text>
<path d="M2372.8,857.8 L2390.5,830.6 L2518,830.6 L2518,885 L2390.5,885 Z" fill="#4F4F4F" stroke="#111" stroke-width="2.2"/>
<text x="2395.50" y="876.1" font-size="49" font-weight="normal" fill="#FFFFFF" textLength="90.90" lengthAdjust="spacingAndGlyphs">1.32</text>
<text transform="translate(2532.5,370.5) rotate(90)" x="0" y="0" font-size="60" fill="#1A1A1A" textLength="197" lengthAdjust="spacingAndGlyphs">Percent</text>
<text transform="translate(2532.5,927.5) rotate(90)" x="0" y="0" font-size="60" fill="#1A1A1A" textLength="197" lengthAdjust="spacingAndGlyphs">Percent</text>
<circle cx="2318" cy="262" r="32.2" fill="none" stroke="#E5325C" stroke-width="4.4" stroke-dasharray="12 6.4"/>
<text x="1905.71" y="279.7" font-size="41.5" font-weight="normal" fill="#E5325C" textLength="147.45" lengthAdjust="spacingAndGlyphs">Highest</text>
<text x="2070.14" y="279.7" font-size="41.5" font-weight="normal" fill="#E5325C" textLength="35.34" lengthAdjust="spacingAndGlyphs">in</text>
<text x="2119.98" y="279.7" font-size="41.5" font-weight="normal" fill="#E5325C" textLength="101.96" lengthAdjust="spacingAndGlyphs">more</text>
<text x="1910.35" y="332" font-size="41.5" font-weight="normal" fill="#E5325C" textLength="84.94" lengthAdjust="spacingAndGlyphs">than</text>
<text x="2008.64" y="332" font-size="41.5" font-weight="normal" fill="#E5325C" textLength="47.57" lengthAdjust="spacingAndGlyphs">40</text>
<text x="2072.29" y="332" font-size="41.5" font-weight="normal" fill="#E5325C" textLength="108.48" lengthAdjust="spacingAndGlyphs">years</text>
<text x="1325.66" y="925" font-size="42.5" font-weight="normal" fill="#E5325C" textLength="147.30" lengthAdjust="spacingAndGlyphs">Biggest</text>
<text x="1486.78" y="925" font-size="42.5" font-weight="normal" fill="#E5325C" textLength="85.58" lengthAdjust="spacingAndGlyphs">gain</text>
<text x="1587.49" y="925" font-size="42.5" font-weight="normal" fill="#E5325C" textLength="103.08" lengthAdjust="spacingAndGlyphs">since</text>
<text x="1704.57" y="925" font-size="42.5" font-weight="normal" fill="#E5325C" textLength="94.83" lengthAdjust="spacingAndGlyphs">2005</text>
<line x1="217.4" y1="860.6" x2="2298" y2="860.6" stroke="#E5325C" stroke-width="4.2" stroke-dasharray="4.2 4.3"/>
<circle cx="201.8" cy="861" r="3.2" fill="#E5325C"/>
<circle cx="207.3" cy="853.3" r="2.3" fill="#E5325C"/>
<circle cx="214.7" cy="849.3" r="2.2" fill="#E5325C"/>
<circle cx="222" cy="844.3" r="2.1" fill="#E5325C"/>
<circle cx="209.3" cy="868.6" r="2.3" fill="#E5325C"/>
<circle cx="217.4" cy="871.4" r="2.1" fill="#E5325C"/>
<path d="M210,854.5 Q213.2,861.5 210,868.5" fill="none" stroke="#E5325C" stroke-width="2.6"/>
<text x="58.76" y="235.2" font-size="40.5" font-weight="normal" fill="#222" textLength="129.13" lengthAdjust="spacingAndGlyphs">Change</text>
<text x="200.48" y="235.2" font-size="40.5" font-weight="normal" fill="#222" textLength="33.66" lengthAdjust="spacingAndGlyphs">in</text>
<text x="245.34" y="235.2" font-size="40.5" font-weight="normal" fill="#222" textLength="171.27" lengthAdjust="spacingAndGlyphs">consumer</text>
<text x="430.35" y="235.2" font-size="40.5" font-weight="normal" fill="#222" textLength="88.39" lengthAdjust="spacingAndGlyphs">price</text>
<text x="531.28" y="235.2" font-size="40.5" font-weight="normal" fill="#222" textLength="96.25" lengthAdjust="spacingAndGlyphs">index</text>
<text x="640.36" y="235.2" font-size="40.5" font-weight="normal" fill="#222" textLength="104.15" lengthAdjust="spacingAndGlyphs">(YoY)</text>
<text x="57.74" y="822.4" font-size="40.5" font-weight="normal" fill="#222" textLength="130.16" lengthAdjust="spacingAndGlyphs">Change</text>
<text x="201.19" y="822.4" font-size="40.5" font-weight="normal" fill="#222" textLength="32.46" lengthAdjust="spacingAndGlyphs">in</text>
<text x="245.90" y="822.4" font-size="40.5" font-weight="normal" fill="#222" textLength="63.18" lengthAdjust="spacingAndGlyphs">CPI</text>
<text x="333.02" y="822.4" font-size="40.5" font-weight="normal" fill="#222" textLength="109.89" lengthAdjust="spacingAndGlyphs">(MoM)</text>
<text x="122.2" y="1382" font-size="51.5" font-weight="normal" fill="#1A1A1A" text-anchor="middle" textLength="67" lengthAdjust="spacingAndGlyphs">'05</text>
<text x="251.4" y="1382" font-size="51.5" font-weight="normal" fill="#1A1A1A" text-anchor="middle" textLength="67" lengthAdjust="spacingAndGlyphs">'06</text>
<text x="380.5" y="1382" font-size="51.5" font-weight="normal" fill="#1A1A1A" text-anchor="middle" textLength="67" lengthAdjust="spacingAndGlyphs">'07</text>
<text x="509.7" y="1382" font-size="51.5" font-weight="normal" fill="#1A1A1A" text-anchor="middle" textLength="67" lengthAdjust="spacingAndGlyphs">'08</text>
<text x="638.8" y="1382" font-size="51.5" font-weight="normal" fill="#1A1A1A" text-anchor="middle" textLength="67" lengthAdjust="spacingAndGlyphs">'09</text>
<text x="768.0" y="1382" font-size="51.5" font-weight="normal" fill="#1A1A1A" text-anchor="middle" textLength="67" lengthAdjust="spacingAndGlyphs">'10</text>
<text x="897.1" y="1382" font-size="51.5" font-weight="normal" fill="#1A1A1A" text-anchor="middle" textLength="67" lengthAdjust="spacingAndGlyphs">'11</text>
<text x="1026.3" y="1382" font-size="51.5" font-weight="normal" fill="#1A1A1A" text-anchor="middle" textLength="67" lengthAdjust="spacingAndGlyphs">'12</text>
<text x="1155.4" y="1382" font-size="51.5" font-weight="normal" fill="#1A1A1A" text-anchor="middle" textLength="67" lengthAdjust="spacingAndGlyphs">'13</text>
<text x="1284.6" y="1382" font-size="51.5" font-weight="normal" fill="#1A1A1A" text-anchor="middle" textLength="67" lengthAdjust="spacingAndGlyphs">'14</text>
<text x="1413.7" y="1382" font-size="51.5" font-weight="normal" fill="#1A1A1A" text-anchor="middle" textLength="67" lengthAdjust="spacingAndGlyphs">'15</text>
<text x="1542.9" y="1382" font-size="51.5" font-weight="normal" fill="#1A1A1A" text-anchor="middle" textLength="67" lengthAdjust="spacingAndGlyphs">'16</text>
<text x="1672.0" y="1382" font-size="51.5" font-weight="normal" fill="#1A1A1A" text-anchor="middle" textLength="67" lengthAdjust="spacingAndGlyphs">'17</text>
<text x="1801.2" y="1382" font-size="51.5" font-weight="normal" fill="#1A1A1A" text-anchor="middle" textLength="67" lengthAdjust="spacingAndGlyphs">'18</text>
<text x="1930.3" y="1382" font-size="51.5" font-weight="normal" fill="#1A1A1A" text-anchor="middle" textLength="67" lengthAdjust="spacingAndGlyphs">'19</text>
<text x="2059.5" y="1382" font-size="51.5" font-weight="normal" fill="#1A1A1A" text-anchor="middle" textLength="67" lengthAdjust="spacingAndGlyphs">'20</text>
<text x="2188.6" y="1382" font-size="51.5" font-weight="normal" fill="#1A1A1A" text-anchor="middle" textLength="67" lengthAdjust="spacingAndGlyphs">'21</text>
<text x="2312.0" y="1382" font-size="51.5" font-weight="normal" fill="#1A1A1A" text-anchor="middle" textLength="67" lengthAdjust="spacingAndGlyphs">'22</text>
<text x="1.5" y="80" font-size="78.5" font-weight="bold" fill="#000" text-anchor="start" textLength="417" lengthAdjust="spacingAndGlyphs">Relentless</text>
<text x="-0.98" y="148.7" font-size="57" font-weight="bold" fill="#000" textLength="258.01" lengthAdjust="spacingAndGlyphs">Inflation</text>
<text x="279.47" y="148.7" font-size="57" font-weight="bold" fill="#000" textLength="57.49" lengthAdjust="spacingAndGlyphs">in</text>
<text x="361.56" y="148.7" font-size="57" font-weight="bold" fill="#000" textLength="79.69" lengthAdjust="spacingAndGlyphs">US</text>
<text x="466.33" y="148.7" font-size="57" font-weight="bold" fill="#000" textLength="181.11" lengthAdjust="spacingAndGlyphs">hotter</text>
<text x="673.83" y="148.7" font-size="57" font-weight="bold" fill="#000" textLength="130.33" lengthAdjust="spacingAndGlyphs">than</text>
<text x="828.93" y="148.7" font-size="57" font-weight="bold" fill="#000" textLength="237.38" lengthAdjust="spacingAndGlyphs">forecast</text>
<text x="1090.55" y="148.7" font-size="57" font-weight="bold" fill="#000" textLength="64.82" lengthAdjust="spacingAndGlyphs">as</text>
<text x="1178.03" y="148.7" font-size="57" font-weight="bold" fill="#000" textLength="180.10" lengthAdjust="spacingAndGlyphs">prices</text>
<text x="1380.15" y="148.7" font-size="57" font-weight="bold" fill="#000" textLength="159.92" lengthAdjust="spacingAndGlyphs">climb</text>
<text x="1564.70" y="148.7" font-size="57" font-weight="bold" fill="#000" textLength="54.55" lengthAdjust="spacingAndGlyphs">in</text>
<text x="1643.02" y="148.7" font-size="57" font-weight="bold" fill="#000" textLength="169.98" lengthAdjust="spacingAndGlyphs">broad</text>
<text x="1836.94" y="148.7" font-size="57" font-weight="bold" fill="#000" textLength="215.75" lengthAdjust="spacingAndGlyphs">fashion</text>
<text x="12.01" y="1437.6" font-size="37.5" font-weight="bold" fill="#000" textLength="160.31" lengthAdjust="spacingAndGlyphs">Source:</text>
<text x="190.31" y="1437.6" font-size="37.5" font-weight="bold" fill="#000" textLength="147.39" lengthAdjust="spacingAndGlyphs">Bureau</text>
<text x="353.05" y="1437.6" font-size="37.5" font-weight="bold" fill="#000" textLength="41.20" lengthAdjust="spacingAndGlyphs">of</text>
<text x="407.92" y="1437.6" font-size="37.5" font-weight="bold" fill="#000" textLength="114.31" lengthAdjust="spacingAndGlyphs">Labor</text>
<text x="539.74" y="1437.6" font-size="37.5" font-weight="bold" fill="#000" textLength="187.10" lengthAdjust="spacingAndGlyphs">Statistics</text>
<text x="2256" y="1436" font-size="55" font-weight="normal" fill="#000" text-anchor="start" textLength="261" lengthAdjust="spacingAndGlyphs" stroke="#000" stroke-width="1.1">Bloomberg</text>
<rect x="2538" y="1397" width="37.5" height="38" rx="5" fill="#000"/>
<path d="M2550,1434 L2557,1441.5 L2564,1434 Z" fill="#000"/>
<rect x="2543.7" y="1418" width="3.2" height="10" rx="1.6" fill="#fff"/>
<rect x="2551.2" y="1412" width="3.2" height="16" rx="1.6" fill="#fff"/>
<rect x="2558.4" y="1407.5" width="3.2" height="20.5" rx="1.6" fill="#fff"/>
<rect x="2566.1" y="1418" width="3.2" height="10" rx="1.6" fill="#fff"/>
<rect x="0" y="0" width="2585" height="1.2" fill="#000"/>
<rect x="2583.8" y="0" width="1.2" height="1454" fill="#000"/>
</svg>
</body></html>
